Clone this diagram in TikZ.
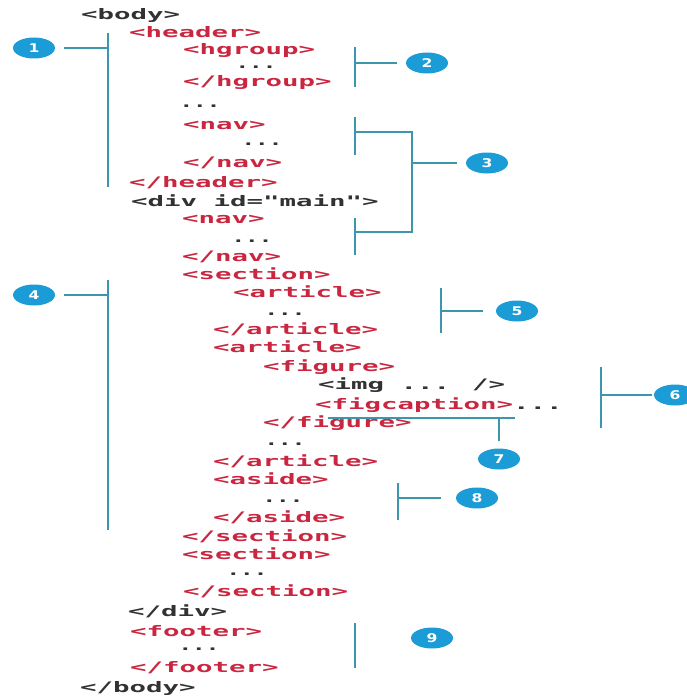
\documentclass[tikz,border=0pt]{standalone}
\usepackage{fontspec}
\usetikzlibrary{shapes.geometric}
\newfontfamily\codefont[FakeStretch=1.89]{DejaVu Sans Mono}
\newfontfamily\gapfont[FakeStretch=1.55]{DejaVu Sans Mono}
\newfontfamily\numfont[FakeStretch=1.3]{DejaVu Sans}
\definecolor{tagred}{RGB}{202,38,64}
\definecolor{plain}{RGB}{50,50,50}
\definecolor{bracket}{RGB}{60,150,172}
\definecolor{badge}{RGB}{28,156,214}

\begin{document}
\begin{tikzpicture}[x=1pt,y=-1pt,
  code/.style={anchor=base west, inner sep=0pt, font=\codefont\bfseries\fontsize{14.5}{14.5}\selectfont},
  tag/.style={code, text=tagred},
  txt/.style={code, text=plain},
  dots/.style={anchor=base, inner sep=0pt, text=plain, font=\gapfont\bfseries\fontsize{14.5}{14.5}\selectfont},
  bar/.style={draw=bracket, line width=2.6pt},
  link/.style={draw=bracket, line width=1.6pt},
  num/.style={ellipse, fill=badge, text=white, minimum width=42pt, minimum height=21pt,
    inner sep=0pt, font=\numfont\bfseries\fontsize{12}{12}\selectfont},
]
\useasboundingbox[fill=white] (0,0) rectangle (686,698);

% markup listing
\node[txt]  (l0)  at (81,19.5)  {<body>};
\node[tag]  (l1)  at (129,37.5) {<header>};
\node[tag]  (l2)  at (183,54.5) {<hgroup>};
\node[dots] (l3)  at (256,69)   {...};
\node[tag]  (l4)  at (183,86.5) {</hgroup>};
\node[dots] (l5)  at (200,107)  {...};
\node[tag]  (l6)  at (183,129.5) {<nav>};
\node[dots] (l7)  at (262,145)  {...};
\node[tag]  (l8)  at (183,167.5) {</nav>};
\node[tag]  (l9)  at (129,187.5) {</header>};
\node[txt]  (l10) at (131,206.5) {<div id="main">};
\node[tag]  (l11) at (182,223.5) {<nav>};
\node[dots] (l12) at (252,242)  {...};
\node[tag]  (l13) at (182,261.5) {</nav>};
\node[tag]  (l14) at (182,279.5) {<section>};
\node[tag]  (l15) at (233,297.5) {<article>};
\node[dots] (l16) at (285,315)  {...};
\node[tag]  (l17) at (213,334.5) {</article>};
\node[tag]  (l18) at (213,352.5) {<article>};
\node[tag]  (l19) at (263,371.5) {<figure>};
\node[txt]  (l20) at (318,389.5) {<img ... />};
\node[txt]  (l21) at (315,409.5) {\textcolor{tagred}{<figcaption>}...};
\node[tag]  (l22) at (263,427.5) {</figure>};
\node[dots] (l23) at (285,445)  {...};
\node[tag]  (l24) at (213,466.5) {</article>};
\node[tag]  (l25) at (213,484.5) {<aside>};
\node[dots] (l26) at (283,502)  {...};
\node[tag]  (l27) at (213,522.5) {</aside>};
\node[tag]  (l28) at (182,541.5) {</section>};
\node[tag]  (l29) at (182,559.5) {<section>};
\node[dots] (l30) at (247,575)  {...};
\node[tag]  (l31) at (183,596.5) {</section>};
\node[txt]  (l32) at (128,616.5) {</div>};
\node[tag]  (l33) at (130,636.5) {<footer>};
\node[dots] (l34) at (199,650)  {...};
\node[tag]  (l35) at (130,672.5) {</footer>};
\node[txt]  (l36) at (80,692.5) {</body>};

% callout badges
\node[num] (n1) at (34,48)   {1};
\node[num] (n2) at (427,63)  {2};
\node[num] (n3) at (487,163) {3};
\node[num] (n4) at (34,295)  {4};
\node[num] (n5) at (517,311) {5};
\node[num] (n6) at (675,395) {6};
\node[num] (n7) at (499,459) {7};
\node[num] (n8) at (477,498) {8};
\node[num] (n9) at (432,638) {9};

% 1: header
\coordinate (b1t) at (108,33);  \coordinate (b1b) at (108,187); \coordinate (b1c) at (108,48);
\draw[bar] (b1t) -- (b1b);
\draw[link, shorten <=9pt] (n1) -- (b1c);

% 2: hgroup
\coordinate (b2t) at (355,47);  \coordinate (b2b) at (355,87);  \coordinate (b2c) at (355,63);
\draw[bar] (b2t) -- (b2b);
\draw[link, shorten <=9pt] (n2) -- (b2c);

% 3: both nav blocks
\coordinate (b3at) at (355,117); \coordinate (b3ab) at (355,155);
\coordinate (b3bt) at (355,218); \coordinate (b3bb) at (355,255);
\coordinate (b3a) at (355,132);  \coordinate (b3b) at (355,232);
\coordinate (k3a) at (412,132);  \coordinate (k3b) at (412,232); \coordinate (k3c) at (412,163);
\draw[bar] (b3at) -- (b3ab);
\draw[bar] (b3bt) -- (b3bb);
\draw[link] (b3a) -- (k3a) -- (k3b) -- (b3b);
\draw[link, shorten <=9pt] (n3) -- (k3c);

% 4: section
\coordinate (b4t) at (108,280); \coordinate (b4b) at (108,530); \coordinate (b4c) at (108,295);
\draw[bar] (b4t) -- (b4b);
\draw[link, shorten <=9pt] (n4) -- (b4c);

% 5: first article
\coordinate (b5t) at (441,288); \coordinate (b5b) at (441,333); \coordinate (b5c) at (441,311);
\draw[bar] (b5t) -- (b5b);
\draw[link, shorten <=13pt] (n5) -- (b5c);

% 6: figure contents
\coordinate (b6t) at (601,367); \coordinate (b6b) at (601,428); \coordinate (b6c) at (601,395);
\draw[bar] (b6t) -- (b6b);
\draw[link, shorten <=2pt] (n6) -- (b6c);

% 7: figcaption underline
\coordinate (u7a) at (328,418); \coordinate (u7b) at (515,418); \coordinate (u7c) at (499,418);
\draw[link] (u7a) -- (u7b);
\draw[link, shorten <=7pt] (n7) -- (u7c);

% 8: aside
\coordinate (b8t) at (398,483); \coordinate (b8b) at (398,520); \coordinate (b8c) at (398,498);
\draw[bar] (b8t) -- (b8b);
\draw[link, shorten <=15pt] (n8) -- (b8c);

% 9: footer
\coordinate (b9t) at (355,623); \coordinate (b9b) at (355,668);
\draw[bar] (b9t) -- (b9b);
\end{tikzpicture}
\end{document}
